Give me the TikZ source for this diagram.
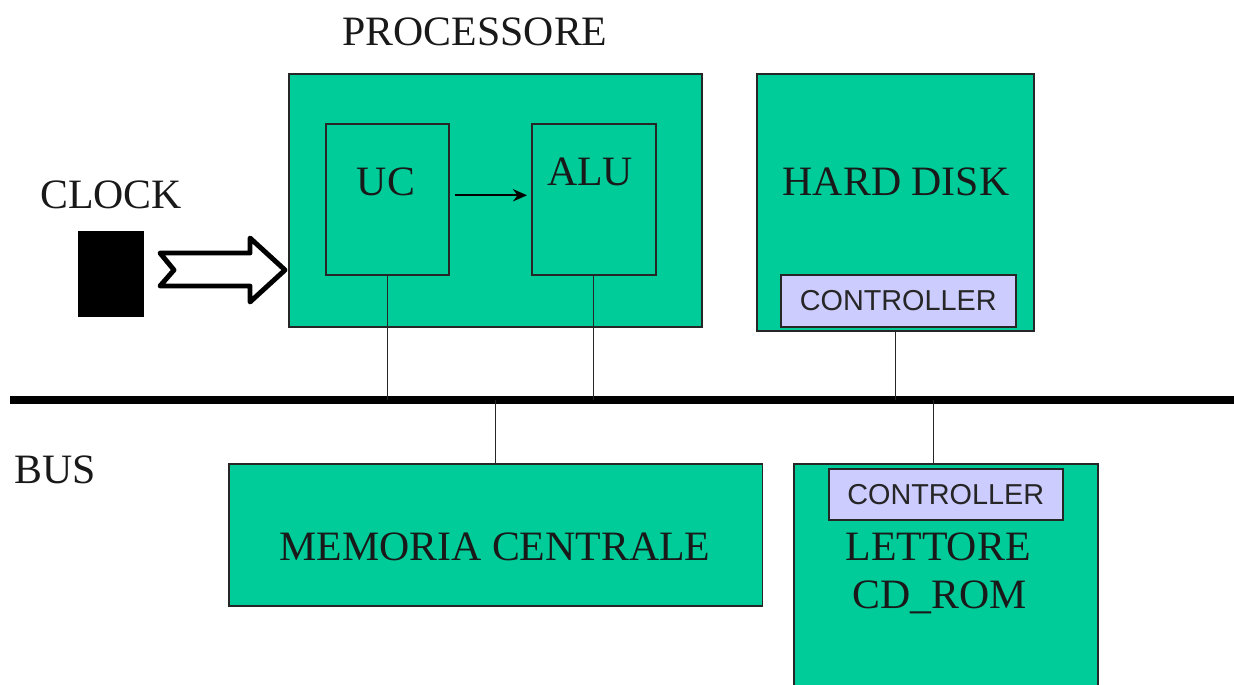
\documentclass[tikz,border=0pt]{standalone}
\usepackage{fontspec}
\setmainfont{Liberation Serif}
\setsansfont{Liberation Sans}
\usetikzlibrary{calc,arrows.meta}
\definecolor{hwGreen}{RGB}{0,204,153}
\definecolor{ctrlLilac}{RGB}{204,204,255}
\begin{document}
\begin{tikzpicture}[x=0.02cm, y=-0.02cm,
    hwBox/.style={draw=black!85, line width=0.9pt, fill=hwGreen, anchor=north west, inner sep=0pt},
    ctrlBox/.style={draw=black!85, line width=0.9pt, fill=ctrlLilac, anchor=north west, inner sep=0pt},
    hwLabel/.style={font=\fontsize{23.8}{27}\selectfont, text=black!90, inner sep=0pt, align=center},
    ctrlLabel/.style={font=\sffamily\fontsize{16.4}{19}\selectfont, text=black!85, inner sep=0pt},
    hwWire/.style={draw=black!85, line width=0.7pt},
    busLine/.style={draw=black, line width=4.5pt}
]
\useasboundingbox (0,0) rectangle (1234,684);
\clip (0,0) rectangle (1234,684);

% clock
\node[hwLabel] (clkLbl) at (111,195) {CLOCK};
\node[anchor=north west, fill=black, inner sep=0pt, minimum width=1.32cm, minimum height=1.72cm] (clk) at (78,231) {};
\draw[line width=2.8pt, line join=round, fill=white]
    (160,253) -- (174,270) -- (160,286) -- (250,286) -- (250,302) -- (285,270)
    -- (250,238) -- (250,253) -- cycle;

% processor
\node[hwLabel] (procLbl) at (475,32) {PROCESSORE};
\node[hwBox, minimum width=8.26cm, minimum height=5.06cm] (proc) at (288,73) {};
\node[hwBox, minimum width=2.46cm, minimum height=3.02cm] (uc) at (325,123) {};
\node[hwBox, minimum width=2.48cm, minimum height=3.02cm] (alu) at (531,123) {};
\node[hwLabel] (ucLbl) at (386,182) {UC};
\node[hwLabel] (aluLbl) at (590,172) {ALU};
\draw[line width=1.2pt, -{Stealth[length=8pt,width=7pt]}] ($(uc.east)+(5,-4)$) -- ($(alu.west)+(-4,-4)$);

% hard disk
\node[hwBox, minimum width=5.54cm, minimum height=5.14cm] (hd) at (756,73) {};
\node[hwLabel] (hdLbl) at (896,182) {HARD DISK};
\node[ctrlBox, minimum width=4.70cm, minimum height=1.04cm] (hdCtrl) at (780,274) {};
\node[ctrlLabel] (hdCtrlLbl) at (hdCtrl.center) {CONTROLLER};

% bus
\coordinate (busL) at (10,400);
\coordinate (busR) at (1234,400);
\draw[busLine] (busL) -- (busR);
\node[hwLabel] (busLbl) at (55,470) {BUS};

% memoria centrale
\node[hwBox, minimum width=10.68cm, minimum height=2.84cm] (mem) at (228,463) {};
\node[hwLabel] (memLbl) at (495,547) {MEMORIA CENTRALE};

% lettore cd-rom
\node[hwBox, minimum width=6.08cm, minimum height=4.8cm] (cd) at (793,463) {};
\node[ctrlBox, minimum width=4.68cm, minimum height=1.02cm] (cdCtrl) at (828,468) {};
\node[ctrlLabel] (cdCtrlLbl) at (cdCtrl.center) {CONTROLLER};
\node[hwLabel] (cdLbl1) at (938,547) {LETTORE};
\node[hwLabel] (cdLbl2) at (940,597) {CD\_ROM};
\coordinate (cdTop) at ($(cd.north)+(-12,0)$);

% links to the bus
\draw[hwWire] (uc.south) -- (uc.south |- busL);
\draw[hwWire] (alu.south) -- (alu.south |- busL);
\draw[hwWire] (hd.south) -- (hd.south |- busL);
\draw[hwWire] (mem.north) -- (mem.north |- busL);
\draw[hwWire] (cdTop) -- (cdTop |- busL);
\end{tikzpicture}
\end{document}
